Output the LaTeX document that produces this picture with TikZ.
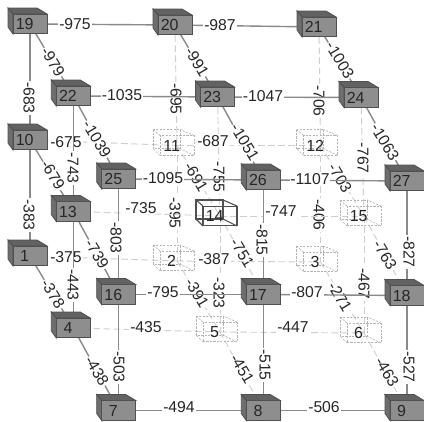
\documentclass[tikz,border=0pt]{standalone}
\usepackage{fontspec}
\setmainfont{Liberation Sans}
\pgfdeclarelayer{dashlayer}
\pgfdeclarelayer{solidlayer}
\pgfsetlayers{dashlayer,solidlayer,main}
\definecolor{frontgray}{HTML}{8E8E8E}
\definecolor{topgray}{HTML}{626262}
\definecolor{sidegray}{HTML}{6E6E6E}
\definecolor{edgegray}{HTML}{505050}
\definecolor{linkgray}{HTML}{8A8A8A}
\definecolor{faintgray}{HTML}{CFCFCF}
\definecolor{wiregray}{HTML}{B4B4B4}
\tikzset{
  basecube/.style={rectangle,inner sep=0pt,minimum width=25.5pt,minimum height=14.6pt,font=\fontsize{12}{13}\selectfont,text=black!85},
  solidface/.style={basecube,draw=edgegray,fill=frontgray,line width=.7pt},
  wire/.style={draw=wiregray,dash pattern=on 1.6pt off 1pt,line width=.5pt},
  blackwire/.style={draw=edgegray,line width=.8pt},
  wireface/.style={basecube,wire},
  blackwireface/.style={basecube,blackwire},
  solidlink/.style={draw=linkgray,line width=1.05pt},
  dashlink/.style={draw=faintgray,line width=.7pt,dash pattern=on 5pt off 2.6pt},
  linklabel/.style={fill=white,inner sep=.6pt,font=\fontsize{11.8}{13}\selectfont,text=black!85},
}
\newcommand\solidcube[3]{%
  \begin{scope}[shift={(#2)}]
    \draw[edgegray,line width=.6pt,fill=topgray] (-17,-10)--(-22,-16)--(7,-16)--(17,-10)--cycle;
    \draw[edgegray,line width=.6pt,fill=sidegray] (-17,-10)--(-22,-16)--(-22,3)--(-17,10)--cycle;
  \end{scope}
  \node[solidface] (n#1) at (#2) {#3\kern8pt};
}
\newcommand\wirecube[4]{%
  \begin{scope}[shift={(#2)},#4]
    \draw (-24,-16) rectangle (3,3);
    \draw (-17,-10)--(-24,-16) (17,-10)--(3,-16) (17,10)--(3,3) (-17,10)--(-24,3);
  \end{scope}
  \node[#4face] (n#1) at (#2) {#3\kern8pt};
}
\newcommand\lnk[5]{%
  \draw[#1] (n#2.center) -- (n#3.center);
  \node[linklabel,rotate=#5] (l#2x#3) at (#4)
}
\begin{document}
\begin{tikzpicture}[x=.75pt,y=-.75pt]
\useasboundingbox (0,0) rectangle (424,421);
\solidcube{19}{30,24}{19}
\solidcube{20}{175,25}{20}
\solidcube{21}{319,27}{21}
\solidcube{22}{73.3,96}{22}
\solidcube{23}{217.5,97}{23}
\solidcube{24}{361,97.5}{24}
\solidcube{10}{30,140}{10}
\solidcube{25}{118.7,179}{25}
\solidcube{26}{263.3,180}{26}
\solidcube{27}{407,181}{27}
\solidcube{13}{73.3,211.5}{13}
\solidcube{1}{30,256}{1}
\solidcube{16}{118.7,294.5}{16}
\solidcube{17}{263.3,294.5}{17}
\solidcube{18}{407,295.5}{18}
\solidcube{4}{73.3,328}{4}
\solidcube{7}{118.7,410.5}{7}
\solidcube{8}{263.3,410.5}{8}
\solidcube{9}{407,410.5}{9}
\wirecube{11}{177,145.5}{11}{wire}
\wirecube{12}{320.5,145.5}{12}{wire}
\wirecube{15}{364,216}{15}{wire}
\wirecube{2}{177,261}{2}{wire}
\wirecube{3}{320.5,262}{3}{wire}
\wirecube{5}{220,332}{5}{wire}
\wirecube{6}{364,333}{6}{wire}
\wirecube{14}{220,216}{14}{blackwire}
\begin{pgfonlayer}{dashlayer}
\fill[white] (0,0) rectangle (424,421);
\lnk{dashlink}{20}{11}{176,99}{-90}{-695};
\lnk{dashlink}{21}{12}{319,101}{-90}{-706};
\lnk{dashlink}{23}{14}{219,177}{-90}{-755};
\lnk{dashlink}{24}{15}{363,158}{-90}{-767};
\lnk{dashlink}{10}{11}{66,142}{0}{-675};
\lnk{dashlink}{11}{12}{213,141}{0}{-687};
\lnk{dashlink}{11}{2}{175,213}{-90}{-395};
\lnk{dashlink}{11}{14}{196,177}{-59}{-691};
\lnk{dashlink}{12}{3}{319,215}{-90}{-406};
\lnk{dashlink}{12}{15}{340,178}{-59}{-703};
\lnk{dashlink}{13}{14}{141,208}{0}{-735};
\lnk{dashlink}{14}{15}{281,211}{0}{-747};
\lnk{dashlink}{14}{5}{219,293}{-90}{-323};
\lnk{dashlink}{14}{17}{242,253}{-59}{-751};
\lnk{dashlink}{15}{6}{364,284}{-90}{-467};
\lnk{dashlink}{15}{18}{385,255}{-59}{-763};
\lnk{dashlink}{1}{2}{66,257}{0}{-375};
\lnk{dashlink}{2}{3}{214,259}{0}{-387};
\lnk{dashlink}{2}{5}{197,293}{-59}{-391};
\lnk{dashlink}{3}{6}{340,297}{-59}{-271};
\lnk{dashlink}{4}{5}{146,327}{0}{-435};
\lnk{dashlink}{5}{6}{293,327}{0}{-447};
\lnk{dashlink}{5}{8}{242,369}{-59}{-451};
\lnk{dashlink}{6}{9}{387,372}{-59}{-463};
\end{pgfonlayer}
\begin{pgfonlayer}{solidlayer}
\lnk{solidlink}{19}{20}{75,24}{0}{-975};
\lnk{solidlink}{20}{21}{220,25}{0}{-987};
\lnk{solidlink}{19}{10}{29,98}{-90}{-683};
\lnk{solidlink}{19}{22}{53,62}{-59}{-979};
\lnk{solidlink}{20}{23}{197,62}{-59}{-991};
\lnk{solidlink}{21}{24}{340,60}{-59}{-1003};
\lnk{solidlink}{22}{23}{122,95}{0}{-1035};
\lnk{solidlink}{23}{24}{263,96}{0}{-1047};
\lnk{solidlink}{22}{13}{73,168}{-90}{-743};
\lnk{solidlink}{22}{25}{97,139}{-59}{-1039};
\lnk{solidlink}{23}{26}{245,142}{-59}{-1051};
\lnk{solidlink}{24}{27}{385,142}{-59}{-1063};
\lnk{solidlink}{10}{1}{29,215}{-90}{-383};
\lnk{solidlink}{10}{13}{53,175}{-59}{-679};
\lnk{solidlink}{13}{4}{73,285}{-90}{-443};
\lnk{solidlink}{13}{16}{97,254}{-59}{-739};
\lnk{solidlink}{25}{26}{163,178}{0}{-1095};
\lnk{solidlink}{26}{27}{310,179}{0}{-1107};
\lnk{solidlink}{25}{16}{116,238}{-90}{-803};
\lnk{solidlink}{26}{17}{262,240}{-90}{-815};
\lnk{solidlink}{27}{18}{409,252}{-90}{-827};
\lnk{solidlink}{1}{4}{53,294}{-59}{-378};
\lnk{solidlink}{4}{7}{97,371}{-59}{-438};
\lnk{solidlink}{16}{17}{163,292}{0}{-795};
\lnk{solidlink}{17}{18}{307,292}{0}{-807};
\lnk{solidlink}{16}{7}{119,367}{-90}{-503};
\lnk{solidlink}{17}{8}{265,365}{-90}{-515};
\lnk{solidlink}{18}{9}{409,367}{-90}{-527};
\lnk{solidlink}{7}{8}{179,407}{0}{-494};
\lnk{solidlink}{8}{9}{324,407}{0}{-506};
\end{pgfonlayer}
\end{tikzpicture}
\end{document}
